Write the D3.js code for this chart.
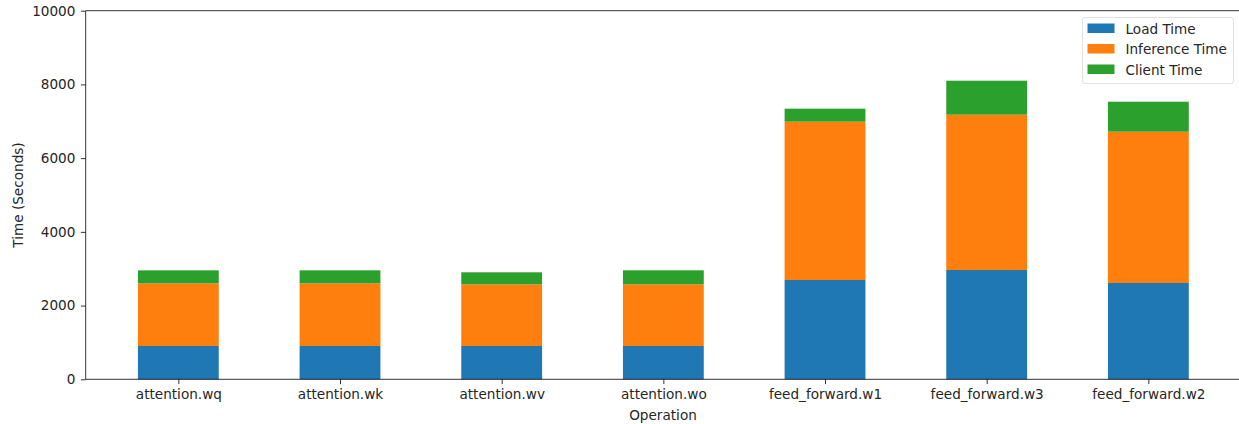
<!DOCTYPE html>
<html>
<head>
<meta charset="utf-8">
<script src="https://cdn.jsdelivr.net/npm/d3@7"></script>
<style>
  html, body { margin: 0; padding: 0; background: #fff; }
  svg text { font-family: "DejaVu Sans", sans-serif; fill: #262626; }
</style>
</head>
<body>
<svg id="chart" width="1239" height="424"></svg>
<script>
// Operations on the x axis
const operations = ["attention.wq", "attention.wk", "attention.wv", "attention.wo",
                    "feed_forward.w1", "feed_forward.w3", "feed_forward.w2"];
// Stacked timing components (seconds)
const loadTime      = [903, 903, 903, 903, 2694, 2965, 2613];
const inferenceTime = [1700, 1700, 1674, 1674, 4295, 4214, 4104];
const clientTime    = [353, 353, 326, 380, 353, 922, 814];
// Series names and y-axis ticks
const seriesNames = ["Load Time", "Inference Time", "Client Time"];
const yTicks = [0, 2000, 4000, 6000, 8000, 10000];

const colors = ["#1f77b4", "#ff7f0e", "#2ca02c"];
const rows = operations.map((op, i) => ({
  op, "Load Time": loadTime[i], "Inference Time": inferenceTime[i], "Client Time": clientTime[i]
}));

const FONT = "13.6px";
const svg = d3.select("#chart");
const plotL = 85.7, plotR = 1241, plotT = 10.7, plotB = 379.3;

// Category positions: bars sit on integer positions, axis padded on both sides
const xPos = d3.scaleLinear().domain([-0.573, operations.length - 1 + 0.573]).range([plotL, plotR]);
const step = xPos(1) - xPos(0);
const barW = step * 0.5;
const y = d3.scaleLinear().domain([0, 10000]).range([plotB, plotT]);

const stack = d3.stack().keys(seriesNames)(rows);

const g = svg.append("g");
stack.forEach((layer, k) => {
  g.selectAll(null).data(layer).enter().append("rect")
    .attr("x", (d, i) => xPos(i) - barW / 2)
    .attr("width", barW)
    .attr("y", d => y(d[1]))
    .attr("height", d => y(d[0]) - y(d[1]))
    .attr("fill", colors[k]);
});

// Y axis
const yAxis = d3.axisLeft(y).tickValues(yTicks).tickSize(4.8).tickPadding(5.5).tickFormat(d3.format("d"));
const ya = svg.append("g").attr("transform", `translate(${plotL},0)`).call(yAxis);
ya.select(".domain").remove();
ya.selectAll("line").attr("stroke", "#000").attr("stroke-width", 0.8);
ya.selectAll("text").attr("font-size", FONT).attr("fill", "#262626");

// X axis
const xAxis = d3.axisBottom(xPos).tickValues(d3.range(operations.length))
  .tickFormat(i => operations[i]).tickSize(4.8).tickPadding(5);
const xa = svg.append("g").attr("transform", `translate(0,${plotB})`).call(xAxis);
xa.select(".domain").remove();
xa.selectAll("line").attr("stroke", "#000").attr("stroke-width", 0.8);
xa.selectAll("text").attr("font-size", FONT).attr("fill", "#262626");

// Spines
const spine = (x1, y1, x2, y2) => svg.append("line")
  .attr("x1", x1).attr("y1", y1).attr("x2", x2).attr("y2", y2)
  .attr("stroke", "#000").attr("stroke-width", 0.8);
spine(plotL, plotT, plotL, plotB);
spine(plotL, plotB, plotR, plotB);
spine(plotL, plotT, plotR, plotT);
spine(plotR, plotT, plotR, plotB);

// Axis titles
svg.append("text").attr("x", 663).attr("y", 419.5)
  .attr("text-anchor", "middle").attr("font-size", FONT).text("Operation");
svg.append("text").attr("transform", `translate(23,${(plotT + plotB) / 2}) rotate(-90)`)
  .attr("text-anchor", "middle").attr("font-size", FONT).text("Time (Seconds)");

// Legend
const lg = svg.append("g").attr("transform", "translate(1082.5,17.5)");
lg.append("rect").attr("width", 151).attr("height", 66).attr("rx", 2.5)
  .attr("fill", "#fff").attr("fill-opacity", 0.8).attr("stroke", "#d9d9d9").attr("stroke-width", 0.8);
seriesNames.forEach((name, k) => {
  const row = lg.append("g").attr("transform", `translate(0,${6 + k * 20.5})`);
  row.append("rect").attr("x", 5).attr("y", 0).attr("width", 27).attr("height", 9.5).attr("fill", colors[k]);
  row.append("text").attr("x", 43).attr("y", 10).attr("font-size", FONT).text(name);
});
</script>
</body>
</html>
